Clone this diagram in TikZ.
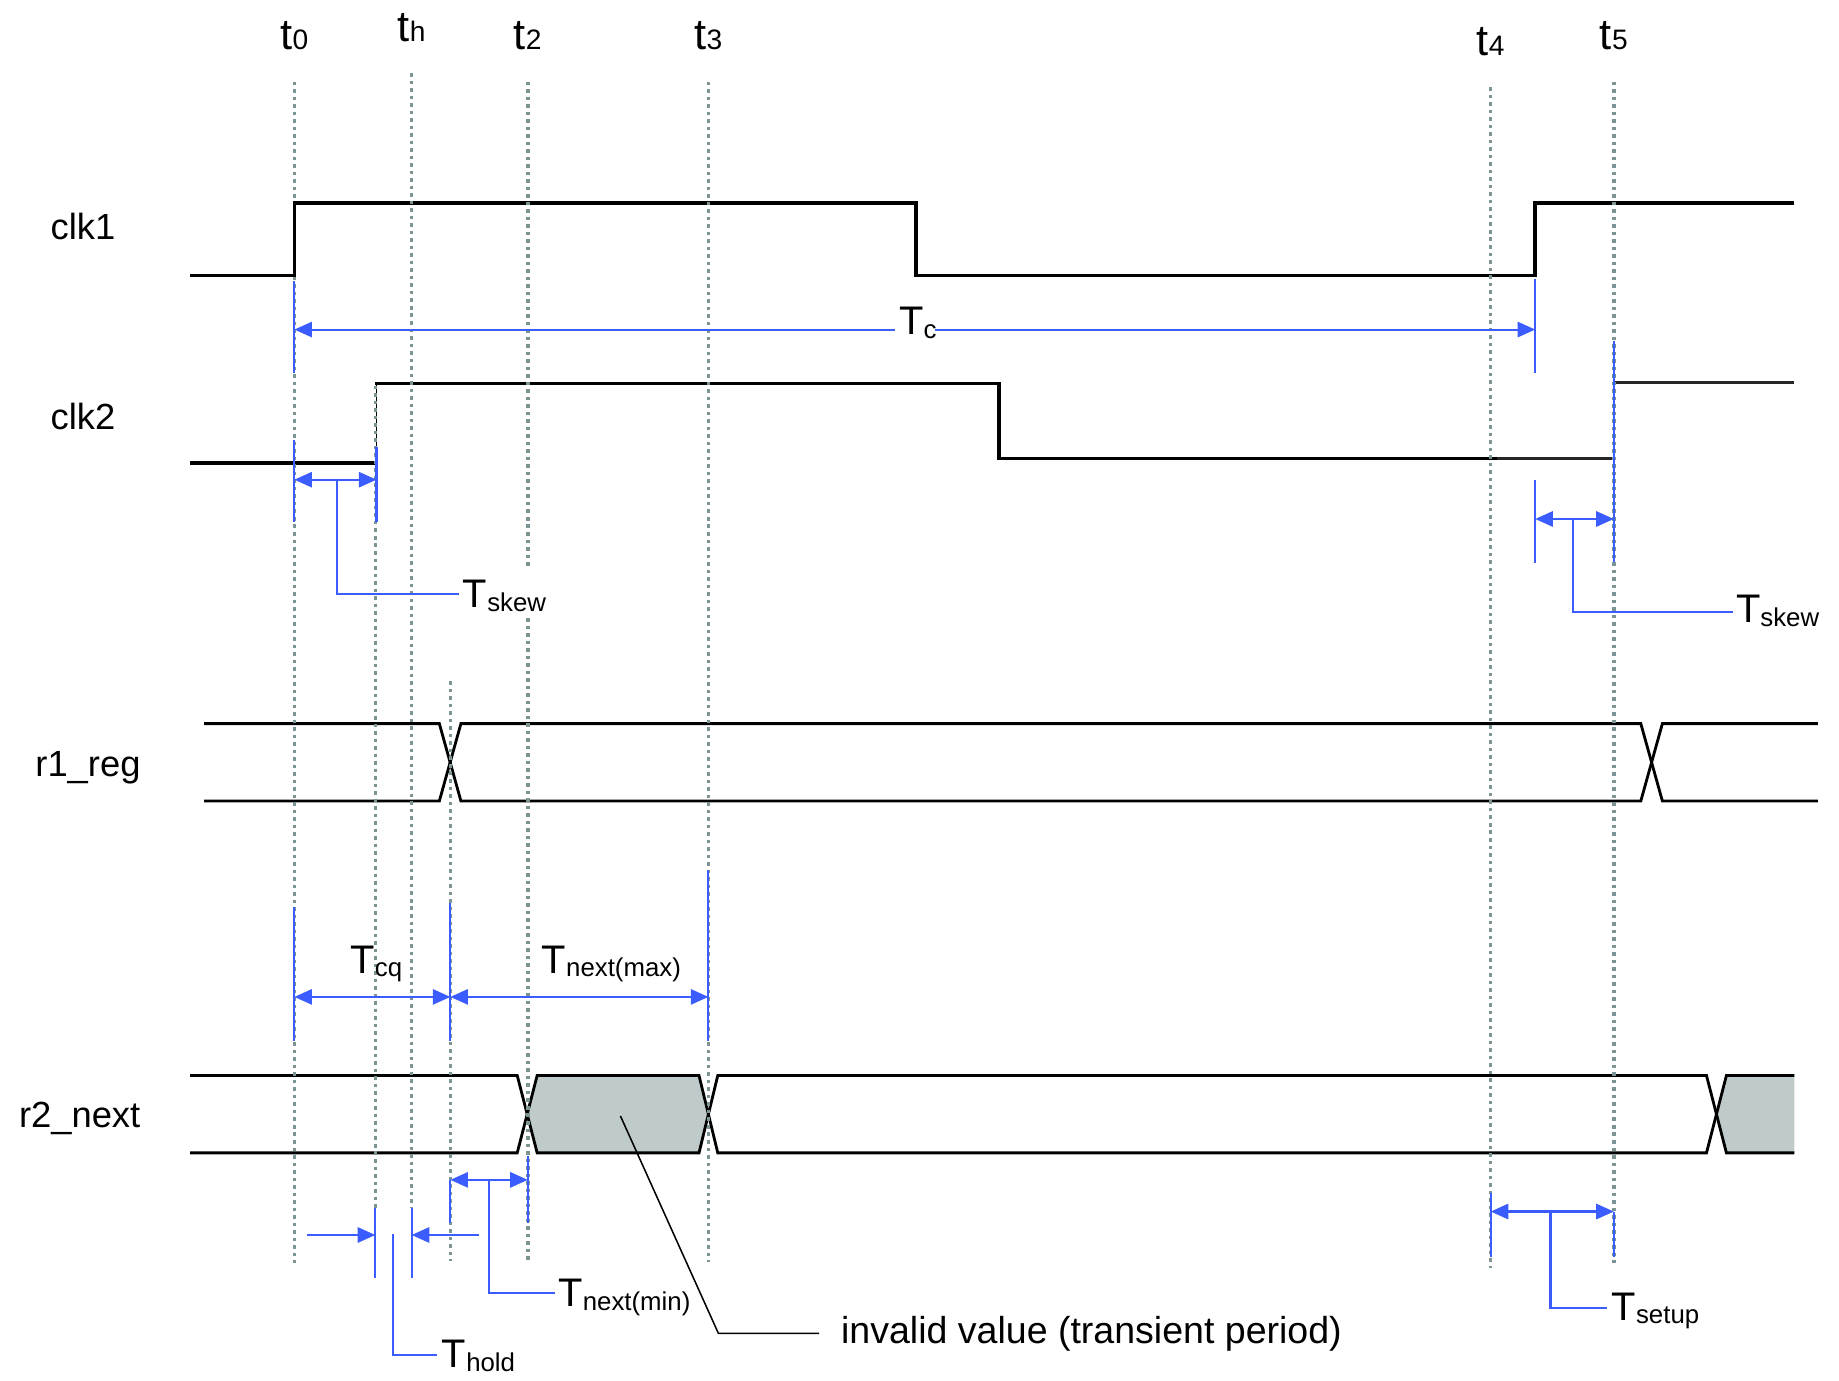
\documentclass[tikz,border=0pt]{standalone}
\usepackage{fontspec}
\setmainfont{Liberation Sans}
\usetikzlibrary{arrows.meta}
\definecolor{dimblue}{RGB}{59,92,255}
\definecolor{guide}{RGB}{125,148,148}
\definecolor{invalidfill}{RGB}{190,203,202}
\newcommand{\Tlab}[1]{{\fontsize{34}{38}\selectfont T}\raisebox{-3pt}{\fontsize{22}{26}\selectfont #1}}
\newcommand{\tlab}[1]{{\fontsize{37}{40}\selectfont t}{\fontsize{24}{28}\selectfont #1}}
\tikzset{
  sig/.style={line width=3.1pt, black, line join=miter},
  thinsig/.style={line width=2pt, black!85},
  bus/.style={line width=2.4pt, black},
  guideline/.style={guide, line width=3pt, dash pattern=on 3pt off 3.4pt},
  dim/.style={dimblue, line width=1.8pt},
  darr/.style={arrows={Triangle[length=15pt,width=13pt]-Triangle[length=15pt,width=13pt]}},
  larr/.style={arrows={Triangle[length=15pt,width=13pt]-}},
  rarr/.style={arrows={-Triangle[length=15pt,width=13pt]}},
  siglabel/.style={inner sep=0pt, anchor=base west, font=\fontsize{31}{36}\selectfont},
  tlabel/.style={inner sep=0pt, anchor=base},
  Tlabel/.style={inner sep=0pt, anchor=base west},
}
\begin{document}
\begin{tikzpicture}[x=1pt,y=-1pt]
\useasboundingbox (0,0) rectangle (1568,1177);

% invalid (transient) regions
\fill[invalidfill] (449.5,950) -- (458,917) -- (596,917) -- (604,950) -- (596,983) -- (458,983) -- cycle;
\fill[invalidfill] (1463,950) -- (1472,917) -- (1530,917) -- (1530,983) -- (1472,983) -- cycle;

% clk1
\draw[sig] (162,235) -- (251,235) -- (251,173) -- (781,173) -- (781,235) -- (1309,235) -- (1309,173) -- (1530,173);
% clk2
\draw[sig] (162,395) -- (321,395);
\draw[black, line width=1.6pt] (321,395) -- (321,327);
\draw[sig] (320,327) -- (852,327) -- (852,391) -- (1276,391);
\draw[thinsig] (1276,391) -- (1376,391) -- (1376,326) -- (1530,326);

% r1_reg
\draw[bus] (174,617) -- (374.6,617) -- (393,683) -- (1399,683) -- (1417.4,617) -- (1550,617);
\draw[bus] (174,683) -- (374.6,683) -- (393,617) -- (1399,617) -- (1417.4,683) -- (1550,683);
% r2_next
\draw[bus] (162,917) -- (441,917) -- (458,983) -- (596,983) -- (612,917) -- (1455,917) -- (1472,983) -- (1530,983);
\draw[bus] (162,983) -- (441,983) -- (458,917) -- (596,917) -- (612,983) -- (1455,983) -- (1472,917) -- (1530,917);

% guide lines
\draw[guideline] (251,69.6) -- (251,1077);
\draw[guideline] (320,329) -- (320,1030);
\draw[guideline] (351,62.5) -- (351,1030);
\draw[guideline] (384,581) -- (384,1075);
\draw[guideline] (450,69.6) -- (450,483);
\draw[guideline] (450,527) -- (450,1076);
\draw[guideline] (604,69.6) -- (604,1076);
\draw[guideline] (1271,74.5) -- (1271,1081);
\draw[guideline] (1376,69.6) -- (1376,1077);

% clk1 rising edge at t0 stays solid
\draw[sig] (251,236.5) -- (251,171.5);

% time labels
\node[tlabel] (lt0) at (251,42.6) {\tlab{0}};
\node[tlabel] (lth) at (351,35.5) {\tlab{h}};
\node[tlabel] (lt2) at (450,42.6) {\tlab{2}};
\node[tlabel] (lt3) at (604,42.6) {\tlab{3}};
\node[tlabel] (lt4) at (1271,47) {\tlab{4}};
\node[tlabel] (lt5) at (1376,42.6) {\tlab{5}};

% signal labels
\node[siglabel] (lclk1) at (43,204) {clk1};
\node[siglabel] (lclk2) at (43,366.6) {clk2};
\node[siglabel] (lr1) at (30,662) {r1\_reg};
\node[siglabel] (lr2) at (16,961) {r2\_next};

% ---- Tc ----
\coordinate (tcA) at (251,281); \coordinate (tcB) at (1309,281);
\coordinate (tcL) at (763,281); \coordinate (tcR) at (797,281);
\draw[dim] (251,240) -- (251,318);
\draw[dim] (1309,238) -- (1309,318);
\draw[dim,larr] (tcA) -- (tcL);
\draw[dim,rarr] (tcR) -- (tcB);
\node[Tlabel] (lTc) at (766.5,285.6) {\Tlab{c}};

% ---- Tskew (left) ----
\coordinate (skA) at (251,409); \coordinate (skB) at (321,409);
\coordinate (skS) at (287.6,409); \coordinate (skE) at (391,506.8);
\draw[dim] (251,375) -- (251,445);
\draw[dim] (321,381) -- (321,445);
\draw[dim,darr] (skA) -- (skB);
\draw[dim] (skS) |- (skE);
\node[Tlabel] (lTskewA) at (394.5,518) {\Tlab{skew}};

% ---- t5 marker and Tskew (right) ----
\draw[dim] (1376,291) -- (1376,479);
\coordinate (sk2A) at (1309,442.5); \coordinate (sk2B) at (1376,442.5);
\coordinate (sk2S) at (1341,442.5); \coordinate (sk2E) at (1478,521.5);
\draw[dim] (1309,409) -- (1309,480);
\draw[dim,darr] (sk2A) -- (sk2B);
\draw[dim] (sk2S) |- (sk2E);
\node[Tlabel] (lTskewB) at (1480,531) {\Tlab{skew}};

% ---- Tcq and Tnext(max) ----
\coordinate (cqA) at (251,850); \coordinate (cqB) at (384,850); \coordinate (nxB) at (604,850);
\draw[dim] (251,773) -- (251,888);
\draw[dim] (384,770) -- (384,888);
\draw[dim] (604,742) -- (604,888);
\draw[dim,darr] (cqA) -- (cqB);
\draw[dim,darr] (cqB) -- (nxB);
\node[Tlabel] (lTcq) at (298.7,830) {\Tlab{cq}};
\node[Tlabel] (lTnmax) at (461.8,830) {\Tlab{next(max)}};

% ---- Tnext(min) ----
\coordinate (nmA) at (384,1006); \coordinate (nmB) at (450,1006);
\coordinate (nmS) at (417,1006); \coordinate (nmE) at (473,1102.6);
\draw[dim] (384,1006) -- (384,1043);
\draw[dim] (450,986) -- (450,1043);
\draw[dim,darr] (nmA) -- (nmB);
\draw[dim] (nmS) |- (nmE);
\node[Tlabel] (lTnmin) at (476,1114) {\Tlab{next(min)}};

% ---- Thold ----
\coordinate (hoL) at (261.5,1053); \coordinate (hoA) at (320,1053);
\coordinate (hoR) at (408.7,1053); \coordinate (hoB) at (351,1053);
\coordinate (hoS) at (334.8,1052); \coordinate (hoE) at (372.9,1155.3);
\draw[dim] (320,1030) -- (320,1090);
\draw[dim] (351,1030) -- (351,1090);
\draw[dim,rarr] (hoL) -- (hoA);
\draw[dim,rarr] (hoR) -- (hoB);
\draw[dim] (hoS) |- (hoE);
\node[Tlabel] (lThold) at (376.6,1166) {\Tlab{hold}};

% ---- Tsetup ----
\coordinate (suA) at (1271,1033); \coordinate (suB) at (1376,1033);
\coordinate (suS) at (1322,1033); \coordinate (suE) at (1370,1115);
\draw[dim] (1271,1017) -- (1271,1072);
\draw[dim] (1376,1033) -- (1376,1072);
\draw[dim,darr] (suA) -- (suB);
\draw[dim] (suS) |- (suE);
\node[Tlabel] (lTsetup) at (1374,1125.5) {\Tlab{setup}};

% ---- invalid value callout ----
\coordinate (inA) at (529,951.5); \coordinate (inB) at (612.5,1136.8); \coordinate (inC) at (698.5,1136.8);
\draw[black, line width=1.3pt] (inA) -- (inB) -- (inC);
\node[inner sep=0pt, anchor=base west, font=\fontsize{32}{38}\selectfont] (linvalid) at (717,1145.4) {invalid value (transient period)};

\end{tikzpicture}
\end{document}
